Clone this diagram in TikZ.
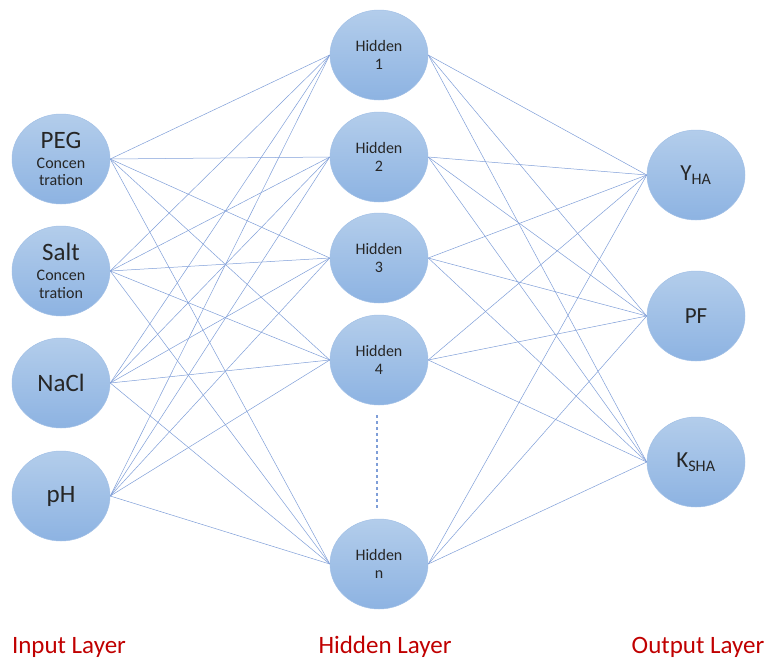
\documentclass[tikz,border=0pt]{standalone}
\usepackage{fontspec}
\setmainfont{Carlito}
\usetikzlibrary{shapes.geometric}

\definecolor{cellTop}{HTML}{B3CDEB}
\definecolor{cellBot}{HTML}{8DB3E2}
\definecolor{cellRim}{HTML}{A2C0E6}
\definecolor{wireBlue}{HTML}{7F9ED8}
\definecolor{layerRed}{HTML}{C00000}

\begin{document}
\begin{tikzpicture}[
			x = 1pt, y = -1pt,
			cell/.style = {ellipse, draw = cellRim, line width = 0.5pt,
				top color = cellTop, bottom color = cellBot,
				minimum width = 98pt, minimum height = 90pt,
				inner sep = 0pt, align = center, text = black!85},
			wire/.style = {wireBlue, line width = 0.5pt},
			layer/.style = {text = layerRed, font = \fontsize{25}{28}\selectfont}
			]

			\path[use as bounding box] (0,0) rectangle (766,662);

			% input layer
			\node[cell, font = \fontsize{16}{17.5}\selectfont] (in1) at (61,159) {{\fontsize{25}{25}\selectfont PEG}\\[2.5pt]Concen\\tration};
			\node[cell, font = \fontsize{16}{17.5}\selectfont] (in2) at (61,271) {{\fontsize{25}{25}\selectfont Salt}\\[2.5pt]Concen\\tration};
			\node[cell, font = \fontsize{25}{28}\selectfont] (in3) at (61,383) {NaCl};
			\node[cell, font = \fontsize{25}{28}\selectfont] (in4) at (61,496) {pH};

			% hidden layer
			\foreach \n/\y in {1/55, 2/157, 3/258, 4/360, n/564}
				\node[cell, font = \fontsize{16}{18}\selectfont] (hid\n) at (379,\y) {Hidden\\\n};

			% output layer
			\node[cell, font = \fontsize{23}{26}\selectfont] (out1) at (696,175) {Y\textsubscript{HA}};
			\node[cell, font = \fontsize{23}{26}\selectfont] (out2) at (696,316) {PF};
			\node[cell, font = \fontsize{23}{26}\selectfont] (out3) at (696,462) {K\textsubscript{SHA}};

			% connections
			\foreach \i in {1,...,4}
				\foreach \j in {1,2,3,4,n}
					\draw[wire] (in\i.east) -- (hid\j.west);
			\foreach \j in {1,2,3,4,n}
				\foreach \k in {1,2,3}
					\draw[wire] (hid\j.east) -- (out\k.west);

			\coordinate (gapTop) at (377,415);
			\coordinate (gapBot) at (377,508);
			\draw[wire, line width = 1.3pt, dashed] (gapTop) -- (gapBot);

			% layer captions
			\node[layer] (capIn) at (69,647) {Input Layer};
			\node[layer] (capHid) at (385,647) {Hidden Layer};
			\node[layer] (capOut) at (698,647) {Output Layer};

		\end{tikzpicture}
\end{document}
